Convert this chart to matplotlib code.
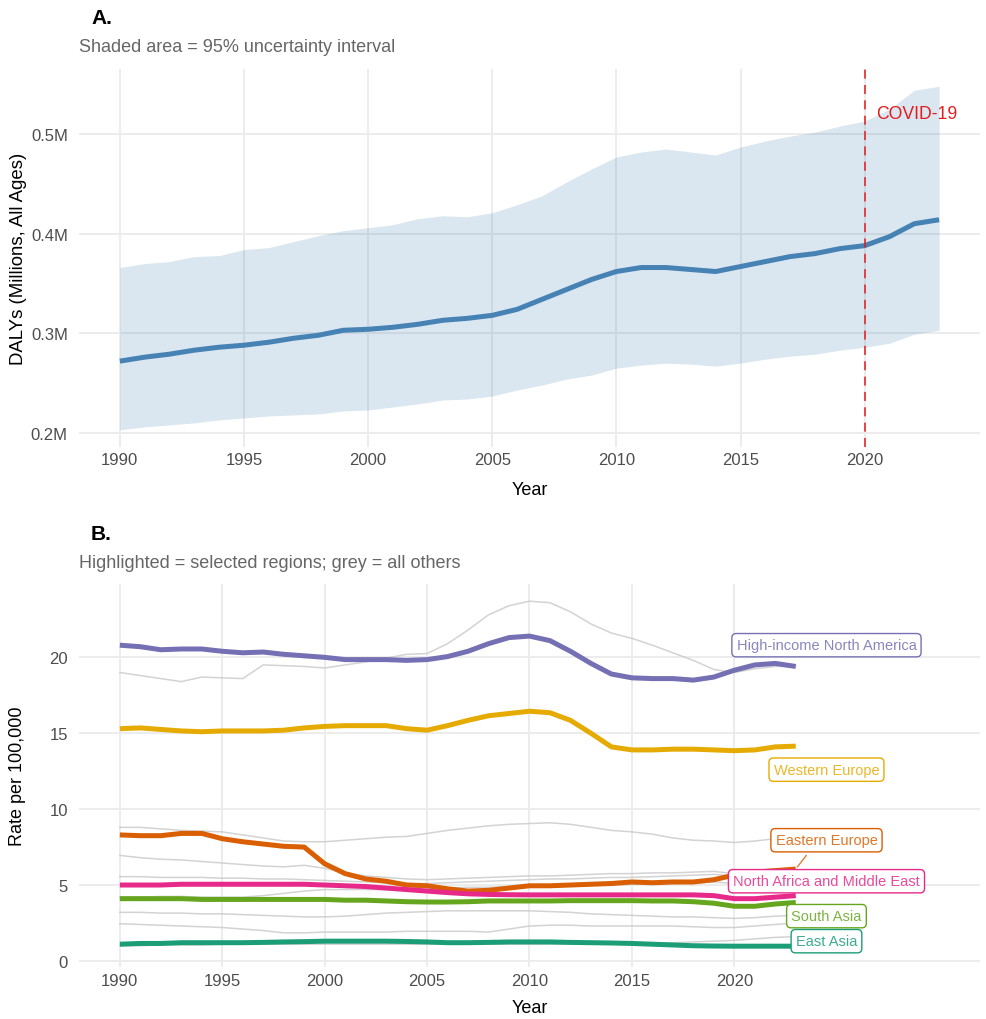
import matplotlib
matplotlib.use('Agg')
import matplotlib.pyplot as plt
import numpy as np

plt.rcParams['font.family'] = ['Liberation Sans', 'DejaVu Sans']

years = list(range(1990, 2024))

# panel A: global DALYs (millions)
daly_mean = [0.272, 0.276, 0.279, 0.283, 0.286, 0.288, 0.291, 0.295, 0.298, 0.303,
             0.304, 0.306, 0.309, 0.313, 0.315, 0.318, 0.324, 0.334, 0.344, 0.354,
             0.362, 0.366, 0.366, 0.364, 0.362, 0.367, 0.372, 0.377, 0.380, 0.385,
             0.388, 0.397, 0.410, 0.414]
daly_upper = [0.366, 0.370, 0.372, 0.377, 0.378, 0.384, 0.386, 0.392, 0.398, 0.403,
              0.406, 0.409, 0.415, 0.418, 0.417, 0.421, 0.429, 0.438, 0.452, 0.465,
              0.477, 0.482, 0.485, 0.482, 0.479, 0.487, 0.493, 0.498, 0.502, 0.508,
              0.513, 0.525, 0.544, 0.548]
daly_lower = [0.203, 0.206, 0.208, 0.210, 0.213, 0.215, 0.217, 0.218, 0.219, 0.222,
              0.223, 0.226, 0.229, 0.233, 0.234, 0.237, 0.243, 0.248, 0.254, 0.258,
              0.265, 0.268, 0.270, 0.269, 0.267, 0.270, 0.274, 0.277, 0.279, 0.283,
              0.286, 0.290, 0.299, 0.303]

# panel B: highlighted regions, rate per 100,000
region_names = ['High-income North America', 'Western Europe', 'Eastern Europe',
                'North Africa and Middle East', 'South Asia', 'East Asia']
region_colors = ['#7570B3', '#E6AB02', '#D95F02', '#E7298A', '#66A61E', '#1B9E77']
hna = [20.8, 20.7, 20.5, 20.55, 20.55, 20.4, 20.3, 20.35, 20.2, 20.1,
       20.0, 19.85, 19.85, 19.85, 19.8, 19.85, 20.05, 20.4, 20.9, 21.3,
       21.4, 21.1, 20.4, 19.6, 18.9, 18.65, 18.6, 18.6, 18.5, 18.7,
       19.15, 19.5, 19.6, 19.4]
weu = [15.3, 15.35, 15.25, 15.15, 15.1, 15.15, 15.15, 15.15, 15.2, 15.35,
       15.45, 15.5, 15.5, 15.5, 15.3, 15.2, 15.5, 15.85, 16.15, 16.3,
       16.45, 16.35, 15.85, 15.0, 14.1, 13.9, 13.9, 13.95, 13.95, 13.9,
       13.85, 13.9, 14.1, 14.15]
eeu = [8.3, 8.25, 8.25, 8.4, 8.4, 8.05, 7.85, 7.7, 7.55, 7.5,
       6.4, 5.75, 5.4, 5.25, 5.0, 4.95, 4.75, 4.6, 4.65, 4.8,
       4.95, 4.95, 5.0, 5.05, 5.1, 5.2, 5.15, 5.2, 5.2, 5.35,
       5.65, 5.85, 5.95, 6.05]
name = [5.0, 5.0, 5.0, 5.05, 5.05, 5.05, 5.05, 5.05, 5.05, 5.05,
        5.0, 4.95, 4.9, 4.8, 4.7, 4.6, 4.5, 4.42, 4.38, 4.36,
        4.35, 4.35, 4.35, 4.35, 4.35, 4.35, 4.35, 4.35, 4.35, 4.3,
        4.1, 4.1, 4.2, 4.3]
sas = [4.1, 4.1, 4.1, 4.1, 4.05, 4.05, 4.05, 4.05, 4.05, 4.05,
       4.05, 4.0, 4.0, 3.95, 3.9, 3.88, 3.88, 3.9, 3.95, 3.95,
       3.95, 3.95, 3.97, 3.97, 3.97, 3.97, 3.95, 3.95, 3.9, 3.8,
       3.6, 3.6, 3.75, 3.85]
eas = [1.1, 1.15, 1.15, 1.2, 1.2, 1.2, 1.2, 1.22, 1.25, 1.27,
       1.3, 1.3, 1.3, 1.3, 1.28, 1.25, 1.2, 1.2, 1.22, 1.25,
       1.25, 1.25, 1.22, 1.2, 1.18, 1.15, 1.1, 1.05, 1.0, 0.98,
       0.97, 0.97, 0.97, 0.97]
highlight = [hna, weu, eeu, name, sas, eas]

# other regions (grey)
others = [
    [19.0, 18.8, 18.6, 18.4, 18.7, 18.65, 18.6, 19.5, 19.45, 19.4,
     19.3, 19.5, 19.7, 19.95, 20.2, 20.25, 20.9, 21.8, 22.8, 23.4,
     23.7, 23.6, 23.0, 22.2, 21.6, 21.25, 20.8, 20.3, 19.8, 19.2,
     19.0, 19.25, 19.4, 19.4],
    [8.8, 8.8, 8.7, 8.6, 8.55, 8.5, 8.3, 8.1, 7.9, 7.85,
     7.85, 7.95, 8.05, 8.15, 8.2, 8.4, 8.6, 8.75, 8.9, 9.0,
     9.05, 9.1, 9.0, 8.8, 8.6, 8.5, 8.35, 8.1, 7.95, 7.9,
     7.8, 7.9, 8.05, 8.15],
    [6.95, 6.8, 6.7, 6.65, 6.55, 6.45, 6.35, 6.25, 6.2, 6.3,
     6.1, 5.8, 5.6, 5.5, 5.4, 5.35, 5.4, 5.45, 5.5, 5.55,
     5.6, 5.6, 5.65, 5.7, 5.75, 5.75, 5.8, 5.8, 5.85, 5.9,
     5.75, 5.8, 5.85, 5.9],
    [5.55, 5.55, 5.5, 5.5, 5.5, 5.45, 5.45, 5.4, 5.4, 5.35,
     5.3, 5.25, 5.2, 5.15, 5.1, 5.1, 5.15, 5.2, 5.25, 5.3,
     5.35, 5.4, 5.4, 5.45, 5.5, 5.5, 5.55, 5.6, 5.65, 5.7,
     5.6, 5.65, 5.7, 5.75],
    [4.2, 4.2, 4.25, 4.25, 4.2, 4.2, 4.2, 4.3, 4.45, 4.6,
     4.7, 4.7, 4.7, 4.7, 4.75, 4.75, 4.8, 4.85, 4.85, 4.9,
     4.9, 4.95, 4.95, 5.0, 5.0, 5.05, 5.1, 5.1, 5.15, 5.2,
     5.1, 5.15, 5.2, 5.25],
    [3.2, 3.2, 3.15, 3.15, 3.1, 3.1, 3.05, 3.0, 2.95, 2.9,
     2.9, 2.95, 3.05, 3.15, 3.2, 3.25, 3.3, 3.3, 3.3, 3.3,
     3.3, 3.25, 3.2, 3.1, 3.05, 3.0, 2.95, 2.9, 2.9, 2.85,
     2.8, 2.85, 2.95, 3.0],
    [2.45, 2.4, 2.35, 2.3, 2.25, 2.2, 2.1, 2.0, 1.85, 1.85,
     1.9, 1.9, 1.9, 1.9, 1.95, 1.95, 1.95, 1.95, 1.9, 2.1,
     2.3, 2.35, 2.35, 2.3, 2.3, 2.3, 2.3, 2.3, 2.25, 2.2,
     2.2, 2.3, 2.4, 2.5],
    [1.0, 1.0, 1.05, 1.05, 1.05, 1.1, 1.1, 1.1, 1.1, 1.1,
     1.1, 1.1, 1.1, 1.1, 1.1, 1.1, 1.1, 1.1, 1.1, 1.1,
     1.1, 1.1, 1.1, 1.1, 1.1, 1.1, 1.15, 1.2, 1.25, 1.3,
     1.35, 1.45, 1.55, 1.6],
]

# label placement (data coords) for repel-style labels
label_x = 2024.5
label_y = [20.8, 12.6, 7.95, 5.25, 2.95, 1.3]

tick_years = [1990, 1995, 2000, 2005, 2010, 2015, 2020]
grid_col = '#EBEBEB'
tick_col = '#4D4D4D'

fig = plt.figure(figsize=(9.86, 10.2), dpi=100)
axA = fig.add_axes([0.080, 0.561, 0.914, 0.370])
axB = fig.add_axes([0.080, 0.051, 0.914, 0.375])

for ax in (axA, axB):
    for s in ax.spines.values():
        s.set_visible(False)
    ax.grid(True, color=grid_col, lw=1.3)
    ax.set_axisbelow(True)
    ax.tick_params(length=0, labelsize=12, labelcolor=tick_col)
    ax.tick_params(axis='y', pad=8)
    ax.tick_params(axis='x', pad=4)
    ax.set_xticks(tick_years)

# ---- panel A ----
axA.fill_between(years, daly_lower, daly_upper, color='steelblue', alpha=0.2, lw=0)
axA.plot(years, daly_mean, color='steelblue', lw=3.6, solid_capstyle='butt')
axA.axvline(2020, color='#E41A1C', lw=1.3, ls=(0, (5, 3.5)), alpha=0.85)
axA.text(2020.45, 0.521, 'COVID-19', color='#E41A1C', fontsize=12.7, va='center', ha='left')
axA.set_xlim(1988.35, 2024.65)
axA.set_ylim(0.186, 0.565)
axA.set_yticks([0.2, 0.3, 0.4, 0.5])
axA.set_yticklabels(['0.2M', '0.3M', '0.4M', '0.5M'])
axA.set_xlabel('Year', fontsize=13, labelpad=10)
axA.set_ylabel('DALYs (Millions, All Ages)', fontsize=13.4, labelpad=3)

fig.text(91 / 986, 1 - 19 / 1020, 'A.', fontsize=15, fontweight='bold', va='center', ha='left')
fig.text(79 / 986, 1 - 48 / 1020, 'Shaded area = 95% uncertainty interval',
         fontsize=13, color='#666666', va='center', ha='left')

# ---- panel B ----
for g in others:
    axB.plot(years, g, color='#C8C8C8', lw=1.1, alpha=0.8, zorder=2)
for vals, col in zip(highlight, region_colors):
    axB.plot(years, vals, color=col, lw=3.6, zorder=3, solid_capstyle='butt')

for nm, col, vals, ly in zip(region_names, region_colors, highlight, label_y):
    if nm == 'Eastern Europe':
        axB.annotate('', xy=(years[-1], vals[-1]), xytext=(label_x - 0.9, ly - 0.85),
                     arrowprops=dict(arrowstyle='-', color=col, lw=1, alpha=0.8), zorder=4)
    axB.text(label_x, ly, nm, color=col, alpha=0.85, fontsize=10.5, ha='center', va='center',
             zorder=5,
             bbox=dict(boxstyle='round,pad=0.32,rounding_size=0.3', fc='white', ec=col, lw=1))

axB.set_xlim(1988, 2032)
axB.set_ylim(-0.4, 24.8)
axB.set_yticks([0, 5, 10, 15, 20])
axB.set_xlabel('Year', fontsize=13, labelpad=8)
axB.set_ylabel('Rate per 100,000', fontsize=13, labelpad=17)

fig.text(91 / 986, 1 - 534 / 1020, 'B.', fontsize=15, fontweight='bold', va='center', ha='left')
fig.text(79 / 986, 1 - 563 / 1020, 'Highlighted = selected regions; grey = all others',
         fontsize=13, color='#666666', va='center', ha='left')

fig.savefig('out.png', dpi=100)
